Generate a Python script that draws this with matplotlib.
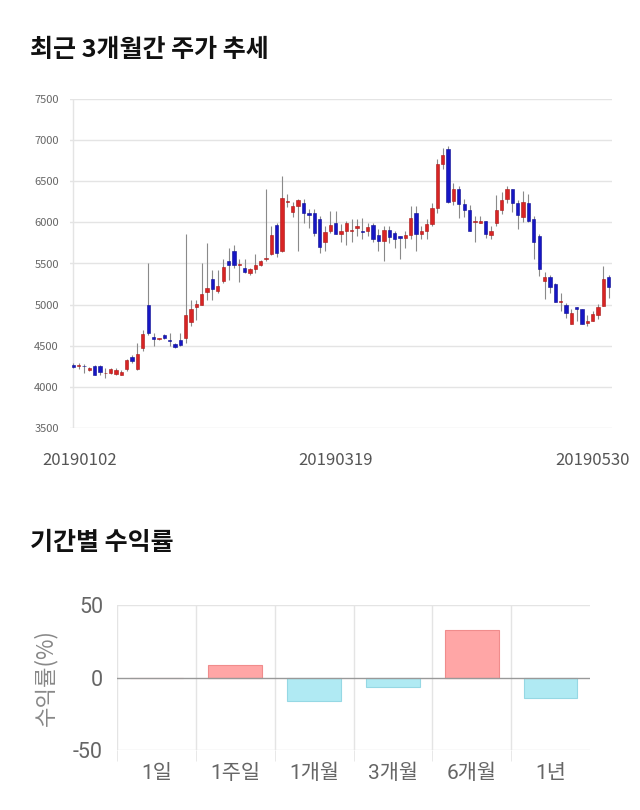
import numpy as np
import matplotlib
matplotlib.use('Agg')
import matplotlib.pyplot as plt
import matplotlib.transforms as mtransforms

plt.rcParams['font.family'] = ['Noto Sans CJK KR', 'DejaVu Sans']
plt.rcParams['axes.unicode_minus'] = False

# daily candles, 2019-01-02 .. 2019-05-30
opens = [4270, 4255, 4255, 4200, 4255, 4255, 4165, 4165, 4160, 4150,
         4215, 4360, 4215, 4470, 4990, 4605, 4585, 4635, 4575, 4520,
         4575, 4600, 4785, 4975, 5000, 5150, 5310, 5160, 5290, 5535,
         5650, 5480, 5445, 5380, 5430, 5485, 5550, 5620, 5965, 5650,
         6250, 6125, 6200, 6240, 6120, 6120, 6035, 5760, 5890, 5990,
         5860, 5900, 5895, 5930, 5895, 5895, 5965, 5845, 5770, 5910,
         5875, 5840, 5810, 5850, 6120, 5860, 5895, 5985, 6170, 6705,
         6890, 6260, 6400, 6220, 6150, 6005, 5995, 6020, 5845, 5990,
         6150, 6290, 6400, 6230, 6070, 6240, 6045, 5835, 5293, 5333,
         5245, 5030, 4995, 4765, 4975, 4945, 4775, 4805, 4875, 4980,
         5335]
closes = [4245, 4255, 4250, 4230, 4150, 4185, 4165, 4215, 4205, 4175,
          4330, 4315, 4400, 4640, 4655, 4580, 4585, 4595, 4560, 4480,
          4505, 4870, 4945, 5005, 5130, 5205, 5195, 5225, 5455, 5485,
          5480, 5490, 5400, 5430, 5480, 5535, 5570, 5845, 5630, 6300,
          6250, 6200, 6275, 6120, 6095, 5875, 5700, 5885, 5970, 5860,
          5900, 5995, 5895, 5955, 5885, 5940, 5800, 5770, 5910, 5820,
          5800, 5815, 5850, 6050, 5855, 5890, 5985, 6170, 6705, 6820,
          6250, 6400, 6220, 6150, 5895, 6005, 6020, 5855, 5895, 6150,
          6275, 6400, 6230, 6090, 6250, 6015, 5760, 5435, 5333, 5215,
          5030, 5030, 4900, 4900, 4945, 4770, 4805, 4880, 4975, 5310,
          5210]
highs = [4285, 4285, 4280, 4240, 4260, 4260, 4225, 4230, 4225, 4200,
         4335, 4390, 4530, 4690, 5500, 4655, 4600, 4640, 4650, 4530,
         4650, 5855, 5055, 5060, 5500, 5745, 5420, 5420, 5550, 5690,
         5720, 5550, 5550, 5450, 5620, 5540, 6400, 5960, 5990, 6565,
         6340, 6250, 6280, 6280, 6160, 6160, 6075, 5955, 6135, 6135,
         5975, 6015, 6035, 6035, 6055, 5990, 5990, 5915, 5955, 5955,
         5895, 5840, 5895, 6195, 6195, 5955, 6045, 6235, 6770, 6910,
         6930, 6475, 6440, 6290, 6210, 6075, 6075, 6020, 5955, 6330,
         6370, 6440, 6400, 6270, 6385, 6345, 6075, 5855, 5395, 5365,
         5265, 5140, 5020, 4945, 4975, 4945, 4875, 4920, 5010, 5465,
         5360]
lows = [4230, 4215, 4170, 4190, 4145, 4140, 4105, 4160, 4150, 4140,
        4190, 4290, 4210, 4440, 4630, 4500, 4570, 4585, 4500, 4475,
        4500, 4530, 4740, 4810, 4990, 5060, 5060, 5140, 5260, 5300,
        5450, 5270, 5390, 5360, 5380, 5470, 5530, 5600, 5580, 5640,
        6190, 6070, 5650, 5990, 5935, 5830, 5630, 5650, 5870, 5860,
        5760, 5730, 5760, 5830, 5800, 5840, 5760, 5650, 5530, 5745,
        5690, 5560, 5690, 5800, 5650, 5800, 5800, 5955, 6120, 6650,
        6230, 6210, 6050, 6070, 5895, 5760, 5995, 5815, 5800, 5955,
        6100, 6235, 6130, 5925, 6000, 6000, 5560, 5345, 5070, 5140,
        5030, 4920, 4840, 4765, 4800, 4760, 4745, 4805, 4825, 4980,
        5080]
date_labels = ['20190102', '20190319', '20190530']
date_index = [0, 50, 100]

periods = ['1일', '1주일', '1개월', '3개월', '6개월', '1년']
returns = [0, 8.4, -15.9, -6.4, 33.0, -14.3]

fig = plt.figure(figsize=(6.4, 8.1), dpi=100)

fig.text(30/640, 1-50/810, '최근 3개월간 주가 추세', fontsize=18,
         weight='bold', va='center', ha='left', color='#111')
fig.text(30/640, 1-543/810, '기간별 수익률', fontsize=18,
         weight='bold', va='center', ha='left', color='#111')

# candle chart
ax = fig.add_axes([70/640, 1-428/810, 542/640, 329/810])
o = np.array(opens)
c = np.array(closes)
h = np.array(highs)
l = np.array(lows)
x = np.arange(len(o))
up = c >= o
ax.vlines(x, l, h, color='#8a8a8a', lw=0.8, zorder=2)
body_lo = np.minimum(o, c)
body_h = np.maximum(np.abs(c - o), 8)
ax.bar(x[up], body_h[up], bottom=body_lo[up], width=0.62,
       color='#d82424', edgecolor='#a81616', lw=0.4, zorder=3)
ax.bar(x[~up], body_h[~up], bottom=body_lo[~up], width=0.62,
       color='#1616c4', edgecolor='#0c0c90', lw=0.4, zorder=3)

ax.set_xlim(-0.6, len(o) - 0.4)
ax.set_ylim(3500, 7500)
ax.set_yticks(np.arange(3500, 7501, 500))
ax.grid(axis='y', color='#e4e4e4', lw=1)
ax.axvline(0, color='#e4e4e4', lw=1, zorder=1)
ax.set_axisbelow(True)
for s in ax.spines.values():
    s.set_visible(False)
ax.tick_params(axis='y', length=0, labelsize=8, labelcolor='#666', pad=8)
ax.set_xticks(date_index)
ax.set_xticklabels(date_labels)
ax.tick_params(axis='x', length=0, labelsize=12, labelcolor='#555', pad=17)
xl = ax.get_xticklabels()
offs = [6, -5, 21]
for t, dx in zip(xl, offs):
    t.set_transform(t.get_transform() +
                    mtransforms.ScaledTranslation(dx/100, 0, fig.dpi_scale_trans))
xl[-1].set_ha('right')

# returns bar chart
bx = fig.add_axes([117/640, 1-750/810, 473/640, 145/810])
cols = ['#ffa6a6' if v >= 0 else '#b0eaf3' for v in returns]
edges = ['#f08c8c' if v >= 0 else '#96d8e4' for v in returns]
bx.bar(np.arange(len(periods)), returns, width=0.68, color=cols,
       edgecolor=edges, lw=0.8, zorder=3)
bx.axhline(0, color='#999', lw=1, zorder=4)
bx.axhline(50, color='#e4e4e4', lw=1, zorder=1)
bx.axhline(-50, color='#e4e4e4', lw=1, zorder=1)
bx.set_xlim(-0.5, len(periods) - 0.5)
bx.set_ylim(-50, 50)
bx.set_yticks([-50, 0, 50])
bx.set_xticks(np.arange(len(periods)))
bx.set_xticklabels(periods)
bx.set_xticks(np.arange(-0.5, len(periods) - 1, 1), minor=True)
bx.grid(axis='x', which='minor', color='#e4e4e4', lw=1)
bx.set_axisbelow(True)
for s in bx.spines.values():
    s.set_visible(False)
bar_font = ['Roboto', 'Noto Sans CJK KR']
bx.tick_params(axis='x', which='major', length=0, labelsize=15,
               labelcolor='#666', pad=10)
bx.tick_params(axis='x', which='minor', length=8, color='#e4e4e4')
bx.tick_params(axis='y', length=0, labelsize=15.5, labelcolor='#666', pad=10)
for t in bx.get_xticklabels() + bx.get_yticklabels():
    t.set_family(bar_font)
fig.text(45/640, 1-678/810, '수익률(%)', rotation=90, fontsize=16,
         color='#888', va='center', ha='center')

fig.savefig('out.png', dpi=100)
